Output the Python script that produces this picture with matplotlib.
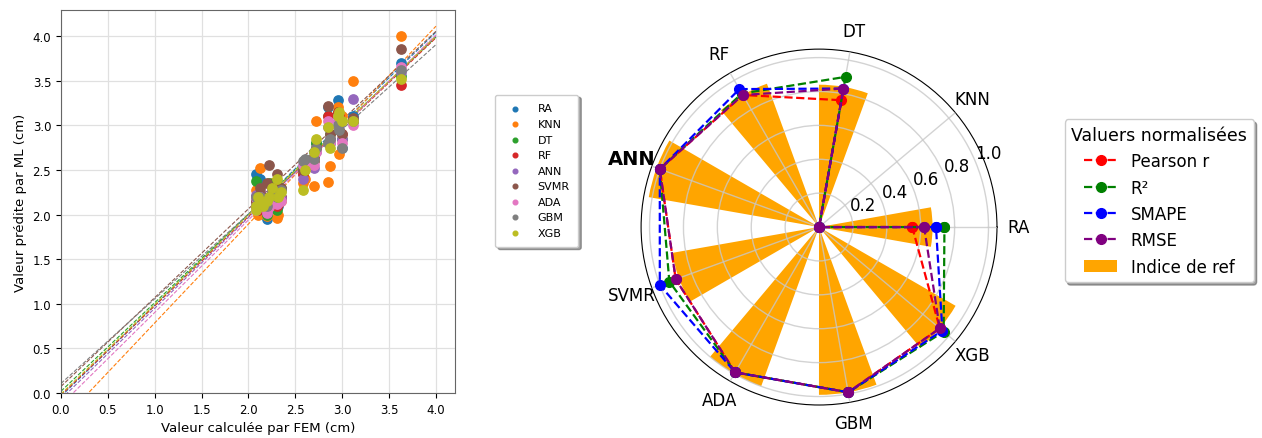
import numpy as np
import matplotlib.pyplot as plt

# ----------------------------
# DATA
# ----------------------------
models = ["RA", "KNN", "DT", "RF", "ANN", "SVMR", "ADA", "GBM", "XGB"]

# FEM values (cm), shared by every model
x_fem = [2.08, 2.08, 2.10, 2.12, 2.15, 2.20, 2.22, 2.25, 2.30, 2.32, 2.35,
         2.58, 2.60, 2.70, 2.72, 2.85, 2.87, 2.95, 2.97, 3.00, 3.12, 3.63]

# ML predictions (cm)
pred_ra   = [2.45, 2.20, 2.10, 2.40, 2.15, 1.95, 2.05, 2.20, 2.30, 2.10, 2.20,
             2.45, 2.60, 2.70, 2.80, 3.20, 2.80, 3.28, 3.00, 2.75, 3.10, 3.70]
pred_knn  = [2.28, 2.10, 2.00, 2.52, 2.20, 1.98, 2.10, 2.35, 1.96, 2.00, 2.15,
             2.35, 2.40, 2.32, 3.05, 2.36, 2.54, 3.20, 2.68, 3.10, 3.50, 4.00]
pred_dt   = [2.38, 2.15, 2.05, 2.20, 2.12, 2.00, 2.35, 2.25, 2.05, 2.15, 2.30,
             2.50, 2.55, 2.65, 2.80, 3.10, 2.90, 3.15, 3.05, 2.85, 3.05, 3.55]
pred_rf   = [2.15, 2.10, 2.05, 2.25, 2.12, 2.10, 2.20, 2.30, 2.10, 2.12, 2.20,
             2.45, 2.55, 2.65, 2.75, 3.10, 2.85, 3.15, 3.10, 2.90, 3.05, 3.45]
pred_ann  = [2.22, 2.10, 2.15, 2.25, 2.18, 2.05, 2.10, 2.28, 2.15, 2.20, 2.18,
             2.40, 2.55, 2.52, 2.70, 2.98, 2.85, 3.05, 3.00, 2.85, 3.30, 3.60]
pred_svmr = [2.20, 2.15, 2.10, 2.30, 2.20, 2.35, 2.55, 2.20, 2.45, 2.25, 2.30,
             2.50, 2.60, 2.60, 2.75, 3.22, 2.90, 3.10, 2.95, 2.90, 3.08, 3.85]
pred_ada  = [2.18, 2.05, 2.10, 2.20, 2.15, 2.02, 2.08, 2.20, 2.12, 2.20, 2.15,
             2.55, 2.58, 2.55, 2.70, 3.05, 2.80, 3.10, 3.05, 2.80, 3.00, 3.65]
pred_gbm  = [2.20, 2.10, 2.12, 2.20, 2.15, 2.10, 2.20, 2.25, 2.20, 2.25, 2.28,
             2.60, 2.62, 2.62, 2.75, 2.80, 2.85, 3.00, 2.95, 2.75, 3.05, 3.62]
pred_xgb  = [2.05, 2.10, 2.20, 2.15, 2.10, 2.15, 2.20, 2.30, 2.40, 2.20, 2.25,
             2.27, 2.50, 2.70, 2.85, 2.98, 2.75, 3.10, 3.15, 3.05, 3.05, 3.52]

predictions = [pred_ra, pred_knn, pred_dt, pred_rf, pred_ann,
               pred_svmr, pred_ada, pred_gbm, pred_xgb]

# Normalised metrics per model (radar)
pearson = [0.55, 0.0, 0.76, 0.90, 1.00, 0.90, 0.99, 0.99, 0.93]
r2      = [0.74, 0.0, 0.90, 0.91, 1.00, 0.94, 0.99, 0.99, 0.96]
smape   = [0.69, 0.0, 0.83, 0.94, 1.00, 1.00, 0.99, 0.99, 0.95]
rmse    = [0.62, 0.0, 0.83, 0.90, 1.00, 0.90, 0.99, 0.99, 0.93]
ref_idx = [0.67, 0.0, 0.84, 0.90, 1.02, 0.88, 1.00, 0.99, 0.93]

# ----------------------------
# FIGURE
# ----------------------------
fig = plt.figure(figsize=(12.62, 4.39), dpi=100)

# --- scatter: predicted vs FEM
ax1 = fig.add_axes([0.0483, 0.1025, 0.312, 0.872])
colors = plt.rcParams['axes.prop_cycle'].by_key()['color']
x_line = np.linspace(0, 4, 50)
for i, name in enumerate(models):
    ax1.scatter(x_fem, predictions[i], s=45, color=colors[i], label=name, zorder=3)
for i, name in enumerate(models):
    slope, intercept = np.polyfit(x_fem, predictions[i], 1)
    ax1.plot(x_line, slope * x_line + intercept, '--', color=colors[i], lw=0.8, zorder=2)

ax1.set_xlim(0, 4.2)
ax1.set_ylim(0, 4.29)
ax1.set_xticks(np.arange(0, 4.01, 0.5))
ax1.set_yticks(np.arange(0, 4.01, 0.5))
ax1.tick_params(labelsize=8.5)
ax1.grid(True, color='#e0e0e0', lw=0.9)
for sp in ax1.spines.values():
    sp.set_color('#666666')
ax1.set_xlabel("Valeur calculée par FEM (cm)", fontsize=9.5)
ax1.set_ylabel("Valeur prédite par ML (cm)", fontsize=9.5)

fig.legend(*ax1.get_legend_handles_labels(), loc='upper left',
           bbox_to_anchor=(0.388, 0.795), fontsize=8, markerscale=0.5,
           shadow=True, handletextpad=1.0, labelspacing=0.5, borderpad=0.8)

# --- radar chart
ax2 = fig.add_axes([0.508, 0.075, 0.282, 0.811], projection='polar')
theta = np.arange(len(models)) * 2 * np.pi / len(models)
theta_c = np.append(theta, theta[0])

ax2.bar(theta, ref_idx, width=0.35, color='orange', label="Indice de ref", zorder=1)
series = [(pearson, 'red', "Pearson r"), (r2, 'green', "R²"),
          (smape, 'blue', "SMAPE"), (rmse, 'purple', "RMSE")]
for vals, col, lab in series:
    v = np.append(vals, vals[0])
    ax2.plot(theta_c, v, 'o--', color=col, lw=1.6, ms=7, label=lab, zorder=3)

ax2.set_ylim(0, 1.05)
ax2.set_yticks([0.2, 0.4, 0.6, 0.8, 1.0])
ax2.set_yticklabels(["0.2", "0.4", "0.6", "0.8", "1.0"], fontsize=12)
ax2.set_xticks(theta)
ax2.set_xticklabels(models, fontsize=12)
ax2.get_xticklabels()[4].set_fontweight('bold')
ax2.get_xticklabels()[4].set_fontsize(14)
ax2.tick_params(axis='x', pad=5)
ax2.set_axisbelow(False)
ax2.grid(True, color='#c8c8c8', lw=1, alpha=0.8, zorder=2)

handles, labels = ax2.get_legend_handles_labels()
fig.legend(handles, labels,
           title="Valuers normalisées", loc='upper left',
           bbox_to_anchor=(0.837, 0.745), fontsize=12, title_fontsize=12.5,
           shadow=True, handlelength=2.0, labelspacing=0.5)

fig.savefig("out.png", dpi=100)
